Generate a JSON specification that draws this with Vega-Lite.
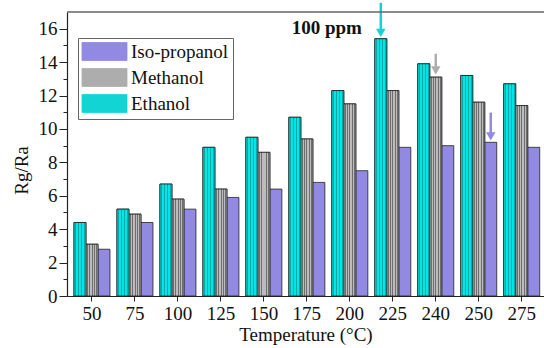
{
  "$schema": "https://vega.github.io/schema/vega-lite/v6.json",
  "width": 477,
  "height": 284,
  "autosize": {"type": "none"},
  "padding": {"left": 67, "top": 12, "right": 0, "bottom": 52},
  "background": "white",
  "config": {
    "view": {"stroke": null},
    "font": "Liberation Serif",
    "axis": {"labelFont": "Liberation Serif", "titleFont": "Liberation Serif", "labelColor": "#111", "titleColor": "#111", "domainColor": "#222", "tickColor": "#222", "grid": false}
  },
  "datasets": {
    "bars": [
      {"t": "50", "s": "Ethanol", "v": 4.4}, {"t": "50", "s": "Methanol", "v": 3.1}, {"t": "50", "s": "Iso-propanol", "v": 2.8},
      {"t": "75", "s": "Ethanol", "v": 5.2}, {"t": "75", "s": "Methanol", "v": 4.9}, {"t": "75", "s": "Iso-propanol", "v": 4.4},
      {"t": "100", "s": "Ethanol", "v": 6.7}, {"t": "100", "s": "Methanol", "v": 5.8}, {"t": "100", "s": "Iso-propanol", "v": 5.2},
      {"t": "125", "s": "Ethanol", "v": 8.9}, {"t": "125", "s": "Methanol", "v": 6.4}, {"t": "125", "s": "Iso-propanol", "v": 5.9},
      {"t": "150", "s": "Ethanol", "v": 9.5}, {"t": "150", "s": "Methanol", "v": 8.6}, {"t": "150", "s": "Iso-propanol", "v": 6.4},
      {"t": "175", "s": "Ethanol", "v": 10.7}, {"t": "175", "s": "Methanol", "v": 9.4}, {"t": "175", "s": "Iso-propanol", "v": 6.8},
      {"t": "200", "s": "Ethanol", "v": 12.3}, {"t": "200", "s": "Methanol", "v": 11.5}, {"t": "200", "s": "Iso-propanol", "v": 7.5},
      {"t": "225", "s": "Ethanol", "v": 15.4}, {"t": "225", "s": "Methanol", "v": 12.3}, {"t": "225", "s": "Iso-propanol", "v": 8.9},
      {"t": "240", "s": "Ethanol", "v": 13.9}, {"t": "240", "s": "Methanol", "v": 13.1}, {"t": "240", "s": "Iso-propanol", "v": 9.0},
      {"t": "250", "s": "Ethanol", "v": 13.2}, {"t": "250", "s": "Methanol", "v": 11.6}, {"t": "250", "s": "Iso-propanol", "v": 9.2},
      {"t": "275", "s": "Ethanol", "v": 12.7}, {"t": "275", "s": "Methanol", "v": 11.4}, {"t": "275", "s": "Iso-propanol", "v": 8.9}
    ],
    "arrows": [
      {"t": "225", "s": "Ethanol", "top": 17.55, "head": 15.75},
      {"t": "240", "s": "Methanol", "top": 14.5, "head": 13.5},
      {"t": "250", "s": "Iso-propanol", "top": 10.98, "head": 9.55}
    ],
    "notes": [{"t": "200", "label": "100 ppm", "y": 16.05}],
    "frame": [{"y": 17}]
  },
  "encoding": {
    "x": {
      "field": "t", "type": "nominal",
      "scale": {"domain": ["50", "75", "100", "125", "150", "175", "200", "225", "240", "250", "275"], "paddingInner": 0.162, "paddingOuter": 0.131, "align": 0.62},
      "axis": {"title": "Temperature (°C)", "labelAngle": 0, "labelFontSize": 19, "titleFontSize": 19, "titleFontWeight": "normal", "tickSize": 5, "labelPadding": 3, "titlePadding": 2, "domainWidth": 1.2}
    }
  },
  "layer": [
    {
      "data": {"name": "bars"},
      "mark": {"type": "bar", "stroke": "#222", "strokeWidth": 0.8, "opacity": 1},
      "encoding": {
        "xOffset": {"field": "s", "type": "nominal", "scale": {"domain": ["Ethanol", "Methanol", "Iso-propanol"], "paddingInner": 0, "paddingOuter": 0}},
        "y": {
          "field": "v", "type": "quantitative",
          "scale": {"domain": [0, 17], "nice": false},
          "axis": {"title": "Rg/Ra", "titleFontSize": 19, "titleFontWeight": "normal", "labelFontSize": 19, "values": [0,1,2,3,4,5,6,7,8,9,10,11,12,13,14,15,16],
                   "labelExpr": "datum.value % 2 === 0 ? datum.label : ''",
                   "labelOverlap": false, "labelBound": false,
                   "tickSize": {"condition": {"test": "datum.value % 2 === 1", "value": 4}, "value": 8},
                   "labelPadding": 2, "titleX": -46, "titleY": 158, "titleAngle": -90, "titleBaseline": "middle", "domainWidth": 1.2}
        },
        "color": {
          "field": "s", "type": "nominal",
          "scale": {"domain": ["Iso-propanol", "Methanol", "Ethanol"], "range": ["#9189e2", "#adadad", "#12d4d4"]},
          "legend": {
            "title": null, "orient": "none", "legendX": 11, "legendY": 26,
            "symbolType": "M-5,-2H5V2H-5Z", "symbolSize": 81, "symbolOffset": 13, "symbolStrokeColor": "#222", "symbolStrokeWidth": 0.8, "symbolOpacity": 1,
            "labelFont": "Liberation Serif", "labelFontSize": 19, "labelColor": "#111", "labelOffset": 17,
            "rowPadding": 3, "padding": 4, "strokeColor": "#666", "fillColor": "white"
          }
        }
      }
    },
    {
      "data": {"name": "bars"},
      "transform": [{"filter": "datum.s === 'Methanol'"}],
      "mark": {"type": "bar", "stroke": "#222", "strokeWidth": 0.8,
        "fill": {"gradient": "linear", "x1": 0, "y1": 0, "x2": 1, "y2": 0, "stops": [
          {"offset": 0, "color": "#bcbcbc"}, {"offset": 0.07, "color": "#bcbcbc"}, {"offset": 0.07, "color": "#6e6e6e"}, {"offset": 0.15, "color": "#6e6e6e"},
          {"offset": 0.15, "color": "#bcbcbc"}, {"offset": 0.27, "color": "#bcbcbc"}, {"offset": 0.27, "color": "#6e6e6e"}, {"offset": 0.35, "color": "#6e6e6e"},
          {"offset": 0.35, "color": "#bcbcbc"}, {"offset": 0.47, "color": "#bcbcbc"}, {"offset": 0.47, "color": "#6e6e6e"}, {"offset": 0.55, "color": "#6e6e6e"},
          {"offset": 0.55, "color": "#bcbcbc"}, {"offset": 0.67, "color": "#bcbcbc"}, {"offset": 0.67, "color": "#6e6e6e"}, {"offset": 0.75, "color": "#6e6e6e"},
          {"offset": 0.75, "color": "#bcbcbc"}, {"offset": 0.87, "color": "#bcbcbc"}, {"offset": 0.87, "color": "#6e6e6e"}, {"offset": 0.95, "color": "#6e6e6e"},
          {"offset": 0.95, "color": "#bcbcbc"}, {"offset": 1, "color": "#bcbcbc"}]}},
      "encoding": {
        "xOffset": {"field": "s", "type": "nominal"},
        "y": {"field": "v", "type": "quantitative",
          "axis": {"title": "Rg/Ra", "titleFontSize": 19, "titleFontWeight": "normal", "labelFontSize": 19, "values": [0,1,2,3,4,5,6,7,8,9,10,11,12,13,14,15,16],
                   "labelExpr": "datum.value % 2 === 0 ? datum.label : ''",
                   "labelOverlap": false, "labelBound": false,
                   "tickSize": {"condition": {"test": "datum.value % 2 === 1", "value": 4}, "value": 8},
                   "labelPadding": 2, "titleX": -46, "titleY": 158, "titleAngle": -90, "titleBaseline": "middle", "domainWidth": 1.2}}
      }
    },
    {
      "data": {"name": "bars"},
      "transform": [{"filter": "datum.s === 'Ethanol'"}],
      "mark": {"type": "bar", "stroke": "#222", "strokeWidth": 0.8,
        "fill": {"gradient": "linear", "x1": 0, "y1": 0, "x2": 1, "y2": 0, "stops": [
          {"offset": 0, "color": "#00e6e6"}, {"offset": 0.12, "color": "#00e6e6"}, {"offset": 0.12, "color": "#0aa8a8"}, {"offset": 0.2, "color": "#0aa8a8"},
          {"offset": 0.2, "color": "#00e6e6"}, {"offset": 0.37, "color": "#00e6e6"}, {"offset": 0.37, "color": "#0aa8a8"}, {"offset": 0.45, "color": "#0aa8a8"},
          {"offset": 0.45, "color": "#00e6e6"}, {"offset": 0.62, "color": "#00e6e6"}, {"offset": 0.62, "color": "#0aa8a8"}, {"offset": 0.7, "color": "#0aa8a8"},
          {"offset": 0.7, "color": "#00e6e6"}, {"offset": 0.87, "color": "#00e6e6"}, {"offset": 0.87, "color": "#0aa8a8"}, {"offset": 0.95, "color": "#0aa8a8"},
          {"offset": 0.95, "color": "#00e6e6"}, {"offset": 1, "color": "#00e6e6"}]}},
      "encoding": {
        "xOffset": {"field": "s", "type": "nominal"},
        "y": {"field": "v", "type": "quantitative",
          "axis": {"title": "Rg/Ra", "titleFontSize": 19, "titleFontWeight": "normal", "labelFontSize": 19, "values": [0,1,2,3,4,5,6,7,8,9,10,11,12,13,14,15,16],
                   "labelExpr": "datum.value % 2 === 0 ? datum.label : ''",
                   "labelOverlap": false, "labelBound": false,
                   "tickSize": {"condition": {"test": "datum.value % 2 === 1", "value": 4}, "value": 8},
                   "labelPadding": 2, "titleX": -46, "titleY": 158, "titleAngle": -90, "titleBaseline": "middle", "domainWidth": 1.2}}
      }
    },
    {
      "data": {"name": "arrows"},
      "mark": {"type": "rule", "strokeWidth": 2.5},
      "encoding": {
        "xOffset": {"field": "s", "type": "nominal"},
        "y": {"field": "top", "type": "quantitative",
          "axis": {"title": "Rg/Ra", "titleFontSize": 19, "titleFontWeight": "normal", "labelFontSize": 19, "values": [0,1,2,3,4,5,6,7,8,9,10,11,12,13,14,15,16],
                   "labelExpr": "datum.value % 2 === 0 ? datum.label : ''",
                   "labelOverlap": false, "labelBound": false,
                   "tickSize": {"condition": {"test": "datum.value % 2 === 1", "value": 4}, "value": 8},
                   "labelPadding": 2, "titleX": -46, "titleY": 158, "titleAngle": -90, "titleBaseline": "middle", "domainWidth": 1.2}},
        "y2": {"field": "head"},
        "color": {"field": "s", "type": "nominal"}
      }
    },
    {
      "data": {"name": "arrows"},
      "mark": {"type": "point", "shape": "triangle-down", "filled": true, "size": 90, "opacity": 1},
      "encoding": {
        "xOffset": {"field": "s", "type": "nominal"},
        "y": {"field": "head", "type": "quantitative",
          "axis": {"title": "Rg/Ra", "titleFontSize": 19, "titleFontWeight": "normal", "labelFontSize": 19, "values": [0,1,2,3,4,5,6,7,8,9,10,11,12,13,14,15,16],
                   "labelExpr": "datum.value % 2 === 0 ? datum.label : ''",
                   "labelOverlap": false, "labelBound": false,
                   "tickSize": {"condition": {"test": "datum.value % 2 === 1", "value": 4}, "value": 8},
                   "labelPadding": 2, "titleX": -46, "titleY": 158, "titleAngle": -90, "titleBaseline": "middle", "domainWidth": 1.2}},
        "color": {"field": "s", "type": "nominal"}
      }
    },
    {
      "data": {"name": "notes"},
      "mark": {"type": "text", "font": "Liberation Serif", "fontWeight": "bold", "fontSize": 19, "dx": -23, "baseline": "middle", "color": "#111"},
      "encoding": {
        "y": {"field": "y", "type": "quantitative",
          "axis": {"title": "Rg/Ra", "titleFontSize": 19, "titleFontWeight": "normal", "labelFontSize": 19, "values": [0,1,2,3,4,5,6,7,8,9,10,11,12,13,14,15,16],
                   "labelExpr": "datum.value % 2 === 0 ? datum.label : ''",
                   "labelOverlap": false, "labelBound": false,
                   "tickSize": {"condition": {"test": "datum.value % 2 === 1", "value": 4}, "value": 8},
                   "labelPadding": 2, "titleX": -46, "titleY": 158, "titleAngle": -90, "titleBaseline": "middle", "domainWidth": 1.2}},
        "text": {"field": "label"}
      }
    },
    {
      "data": {"name": "frame"},
      "mark": {"type": "rule", "color": "#666", "strokeWidth": 1.5},
      "encoding": {
        "x": {"value": 0},
        "x2": {"value": 477},
        "y": {"field": "y", "type": "quantitative",
          "axis": {"title": "Rg/Ra", "titleFontSize": 19, "titleFontWeight": "normal", "labelFontSize": 19, "values": [0,1,2,3,4,5,6,7,8,9,10,11,12,13,14,15,16],
                   "labelExpr": "datum.value % 2 === 0 ? datum.label : ''",
                   "labelOverlap": false, "labelBound": false,
                   "tickSize": {"condition": {"test": "datum.value % 2 === 1", "value": 4}, "value": 8},
                   "labelPadding": 2, "titleX": -46, "titleY": 158, "titleAngle": -90, "titleBaseline": "middle", "domainWidth": 1.2}}
      }
    }
  ]
}
